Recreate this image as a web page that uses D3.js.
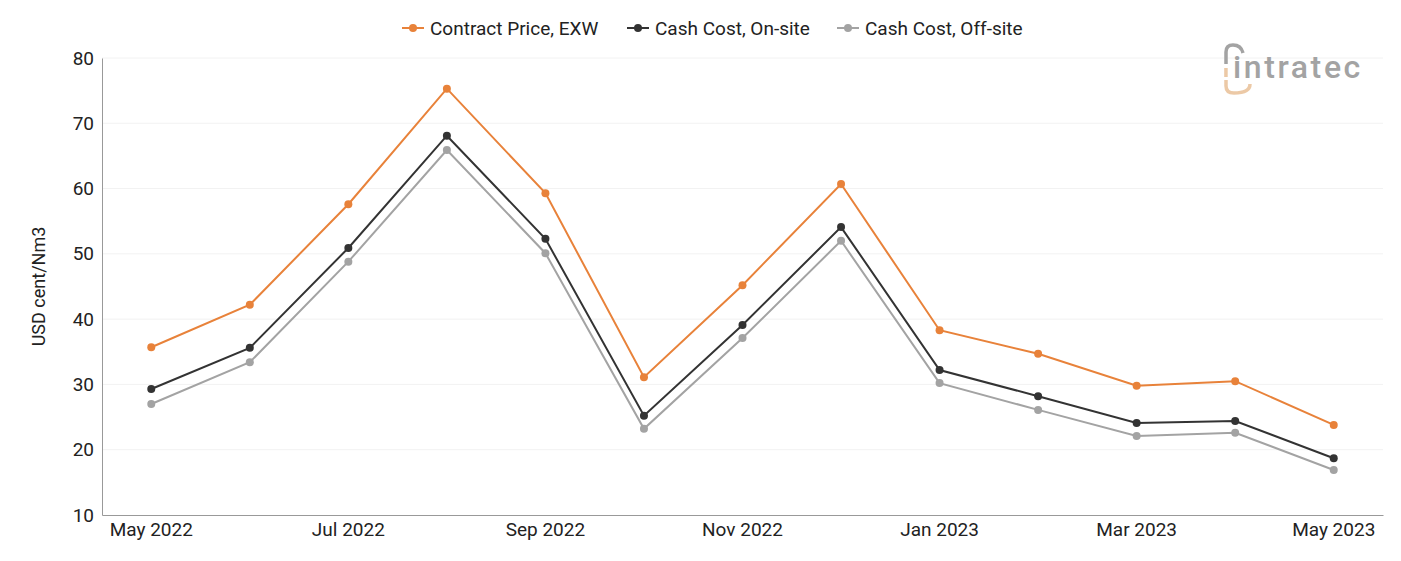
<!DOCTYPE html>
<html><head><meta charset="utf-8">
<script src="https://cdn.jsdelivr.net/npm/d3@7"></script>
<style>body{margin:0;background:#fff;font-family:Roboto,"Noto Sans",sans-serif;}</style>
</head><body>
<svg id="chart" width="1401" height="561"></svg>
<script>
const months = ["May 2022","Jun 2022","Jul 2022","Aug 2022","Sep 2022","Oct 2022","Nov 2022","Dec 2022","Jan 2023","Feb 2023","Mar 2023","Apr 2023","May 2023"];
const tickLabels = ["May 2022","Jul 2022","Sep 2022","Nov 2022","Jan 2023","Mar 2023","May 2023"];
const contractPrice = [35.7,42.2,57.6,75.3,59.3,31.1,45.2,60.7,38.3,34.7,29.8,30.5,23.8];
const cashOnsite = [29.3,35.6,50.9,68.1,52.3,25.2,39.1,54.1,32.2,28.2,24.1,24.4,18.7];
const cashOffsite = [27.0,33.4,48.8,65.9,50.1,23.2,37.1,52.0,30.2,26.1,22.1,22.6,16.9];
const yTicks = [10,20,30,40,50,60,70,80];
const seriesNames = ["Contract Price, EXW","Cash Cost, On-site","Cash Cost, Off-site"];
const seriesColors = ["#e8823a","#333333","#a3a3a3"];

const series = [contractPrice, cashOnsite, cashOffsite];
const svg = d3.select("#chart");
const m = {l:102, r:1383, t:58, b:515};

const x = d3.scaleBand().domain(months).range([m.l, m.r]);
const y = d3.scaleLinear().domain([10,80]).range([m.b, m.t]);
const cx = d => x(d) + x.bandwidth()/2;

// grid
svg.append("g").selectAll("line").data(yTicks.slice(1)).join("line")
  .attr("x1", m.l).attr("x2", m.r).attr("y1", d=>y(d)).attr("y2", d=>y(d))
  .attr("stroke", "#f2f2f2").attr("stroke-width", 1);

// logo
const logo = svg.append("g");
logo.append("text").attr("x",1233).attr("y",78).text("intratec")
  .attr("font-family","Roboto, sans-serif").attr("font-size",32).attr("font-weight",500)
  .attr("fill","#a3a3a3").attr("letter-spacing",2.6);
logo.append("path").attr("d","M1226,64 L1226,52 Q1226,45 1233,45 Q1241,45 1243,53")
  .attr("fill","none").attr("stroke","#a3a3a3").attr("stroke-width",3.5);
logo.append("path").attr("d","M1226,80 L1226,86 Q1226,93 1234,93 Q1250,93 1250,84")
  .attr("fill","none").attr("stroke","#ecc9a6").attr("stroke-width",3.5);
logo.append("rect").attr("x",1224.2).attr("y",68).attr("width",3.5).attr("height",9).attr("fill","#ecc9a6");

// axes
const yAxis = d3.axisLeft(y).tickValues(yTicks).tickSize(0).tickPadding(8);
const yg = svg.append("g").attr("transform",`translate(${m.l},0)`).call(yAxis);
yg.select(".domain").attr("stroke","#999");
yg.selectAll("text").attr("font-size",19).attr("fill","#222").attr("font-family","Roboto, sans-serif");

const xAxis = d3.axisBottom(x).tickValues(tickLabels).tickSize(0).tickPadding(8);
const xg = svg.append("g").attr("transform",`translate(0,${m.b})`).call(xAxis);
xg.select(".domain").attr("stroke","#999");
xg.selectAll("text").attr("font-size",19).attr("fill","#222").attr("font-family","Roboto, sans-serif");

svg.append("text").attr("transform",`translate(45,${(m.t+m.b)/2}) rotate(-90)`)
  .attr("text-anchor","middle").attr("font-size",18).attr("fill","#222")
  .attr("font-family","Roboto, sans-serif").text("USD cent/Nm3");

// lines
const line = d3.line().x((d,i)=>cx(months[i])).y(d=>y(d));
[2,1,0].forEach(si => {
  const g = svg.append("g");
  g.append("path").datum(series[si]).attr("d", line).attr("fill","none")
    .attr("stroke", seriesColors[si]).attr("stroke-width", 2);
  g.selectAll("circle").data(series[si]).join("circle")
    .attr("cx",(d,i)=>cx(months[i])).attr("cy",d=>y(d)).attr("r",4)
    .attr("fill", seriesColors[si]);
});

// legend
const legX = [402, 627, 837];
const lg = svg.append("g");
seriesNames.forEach((n,i)=>{
  const g = lg.append("g").attr("transform",`translate(${legX[i]},28)`);
  g.append("line").attr("x1",0).attr("x2",22).attr("stroke",seriesColors[i]).attr("stroke-width",2);
  g.append("circle").attr("cx",11).attr("r",4).attr("fill",seriesColors[i]);
  g.append("text").attr("x",28).attr("y",6.5).attr("font-size",19).attr("fill","#222")
    .attr("font-family","Roboto, sans-serif").text(n);
});
</script>
</body></html>
